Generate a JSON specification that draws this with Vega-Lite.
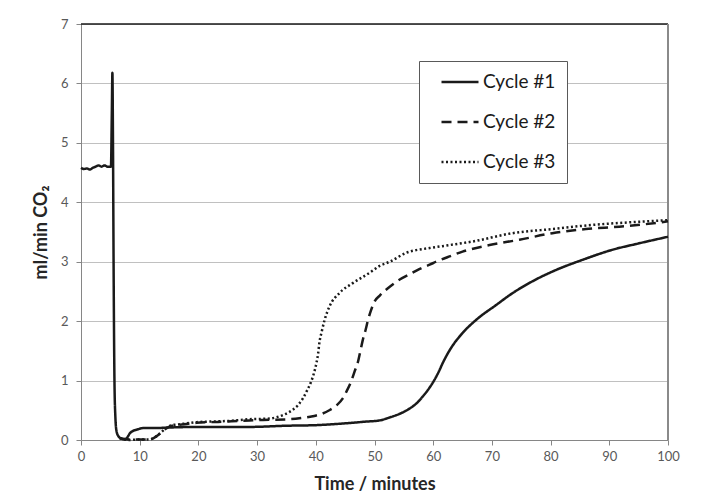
{
  "$schema": "https://vega.github.io/schema/vega-lite/v6.json",
  "width": 587,
  "height": 416,
  "autosize": "none",
  "padding": {"left": 81, "top": 24, "right": 36, "bottom": 58},
  "background": "white",
  "config": {"view": {"stroke": null}, "font": "Lato"},
  "layer": [
    {
      "data": {"values": [{"v": 7}]},
      "mark": {"type": "rule", "color": "#1a1a1a", "strokeWidth": 1.5},
      "encoding": {"y": {"field": "v", "type": "quantitative"}}
    },
    {
      "data": {"values": [{"t": 100}]},
      "mark": {"type": "rule", "color": "#8a8a8a", "strokeWidth": 2},
      "encoding": {"x": {"field": "t", "type": "quantitative"}}
    },
    {
      "data": {"values": [
        {"cycle": "Cycle #3", "t": 6.6, "v": 0.03}, {"cycle": "Cycle #3", "t": 8.3, "v": 0.0}, {"cycle": "Cycle #3", "t": 10, "v": 0.01}, {"cycle": "Cycle #3", "t": 11.7, "v": 0.01}, {"cycle": "Cycle #3", "t": 12.5, "v": 0.04}, {"cycle": "Cycle #3", "t": 13.1, "v": 0.08}, {"cycle": "Cycle #3", "t": 13.8, "v": 0.14}, {"cycle": "Cycle #3", "t": 14.6, "v": 0.21}, {"cycle": "Cycle #3", "t": 15.5, "v": 0.25}, {"cycle": "Cycle #3", "t": 16.3, "v": 0.26}, {"cycle": "Cycle #3", "t": 18, "v": 0.28}, {"cycle": "Cycle #3", "t": 19.7, "v": 0.3}, {"cycle": "Cycle #3", "t": 22, "v": 0.31}, {"cycle": "Cycle #3", "t": 25, "v": 0.32}, {"cycle": "Cycle #3", "t": 28.7, "v": 0.35}, {"cycle": "Cycle #3", "t": 32.1, "v": 0.36}, {"cycle": "Cycle #3", "t": 34.4, "v": 0.42}, {"cycle": "Cycle #3", "t": 35.3, "v": 0.46}, {"cycle": "Cycle #3", "t": 36.1, "v": 0.51}, {"cycle": "Cycle #3", "t": 37, "v": 0.59}, {"cycle": "Cycle #3", "t": 37.8, "v": 0.7}, {"cycle": "Cycle #3", "t": 38.5, "v": 0.83}, {"cycle": "Cycle #3", "t": 39.2, "v": 0.98}, {"cycle": "Cycle #3", "t": 39.7, "v": 1.13}, {"cycle": "Cycle #3", "t": 40.1, "v": 1.29}, {"cycle": "Cycle #3", "t": 40.4, "v": 1.46}, {"cycle": "Cycle #3", "t": 40.6, "v": 1.63}, {"cycle": "Cycle #3", "t": 41.0, "v": 1.82}, {"cycle": "Cycle #3", "t": 41.5, "v": 2.02}, {"cycle": "Cycle #3", "t": 42.3, "v": 2.24}, {"cycle": "Cycle #3", "t": 44.0, "v": 2.47}, {"cycle": "Cycle #3", "t": 46.3, "v": 2.64}, {"cycle": "Cycle #3", "t": 49.1, "v": 2.81}, {"cycle": "Cycle #3", "t": 50.9, "v": 2.93}, {"cycle": "Cycle #3", "t": 52.6, "v": 3.0}, {"cycle": "Cycle #3", "t": 55.4, "v": 3.15}, {"cycle": "Cycle #3", "t": 59.4, "v": 3.23}, {"cycle": "Cycle #3", "t": 62.8, "v": 3.28}, {"cycle": "Cycle #3", "t": 66.7, "v": 3.34}, {"cycle": "Cycle #3", "t": 73.5, "v": 3.48}, {"cycle": "Cycle #3", "t": 80.3, "v": 3.55}, {"cycle": "Cycle #3", "t": 87.2, "v": 3.62}, {"cycle": "Cycle #3", "t": 93, "v": 3.66}, {"cycle": "Cycle #3", "t": 100, "v": 3.7},

        {"cycle": "Cycle #2", "t": 6.6, "v": 0.03}, {"cycle": "Cycle #2", "t": 8.3, "v": 0.01}, {"cycle": "Cycle #2", "t": 10, "v": 0.01}, {"cycle": "Cycle #2", "t": 11.7, "v": 0.01}, {"cycle": "Cycle #2", "t": 12.5, "v": 0.04}, {"cycle": "Cycle #2", "t": 13.1, "v": 0.08}, {"cycle": "Cycle #2", "t": 13.8, "v": 0.14}, {"cycle": "Cycle #2", "t": 14.6, "v": 0.2}, {"cycle": "Cycle #2", "t": 15.5, "v": 0.24}, {"cycle": "Cycle #2", "t": 16.3, "v": 0.25}, {"cycle": "Cycle #2", "t": 18, "v": 0.27}, {"cycle": "Cycle #2", "t": 19.7, "v": 0.29}, {"cycle": "Cycle #2", "t": 22, "v": 0.3}, {"cycle": "Cycle #2", "t": 25, "v": 0.31}, {"cycle": "Cycle #2", "t": 28.7, "v": 0.33}, {"cycle": "Cycle #2", "t": 32, "v": 0.34}, {"cycle": "Cycle #2", "t": 35.5, "v": 0.35}, {"cycle": "Cycle #2", "t": 37.5, "v": 0.37}, {"cycle": "Cycle #2", "t": 39.5, "v": 0.4}, {"cycle": "Cycle #2", "t": 41, "v": 0.44}, {"cycle": "Cycle #2", "t": 42.3, "v": 0.5}, {"cycle": "Cycle #2", "t": 43.5, "v": 0.58}, {"cycle": "Cycle #2", "t": 44.6, "v": 0.7}, {"cycle": "Cycle #2", "t": 45.3, "v": 0.83}, {"cycle": "Cycle #2", "t": 46.0, "v": 0.98}, {"cycle": "Cycle #2", "t": 46.6, "v": 1.15}, {"cycle": "Cycle #2", "t": 47.2, "v": 1.32}, {"cycle": "Cycle #2", "t": 47.6, "v": 1.5}, {"cycle": "Cycle #2", "t": 48.0, "v": 1.68}, {"cycle": "Cycle #2", "t": 48.5, "v": 1.86}, {"cycle": "Cycle #2", "t": 48.9, "v": 2.02}, {"cycle": "Cycle #2", "t": 49.4, "v": 2.18}, {"cycle": "Cycle #2", "t": 50.0, "v": 2.33}, {"cycle": "Cycle #2", "t": 50.9, "v": 2.43}, {"cycle": "Cycle #2", "t": 52.6, "v": 2.58}, {"cycle": "Cycle #2", "t": 54.3, "v": 2.7}, {"cycle": "Cycle #2", "t": 56, "v": 2.79}, {"cycle": "Cycle #2", "t": 57.7, "v": 2.88}, {"cycle": "Cycle #2", "t": 59.4, "v": 2.95}, {"cycle": "Cycle #2", "t": 60.5, "v": 3.0}, {"cycle": "Cycle #2", "t": 62.8, "v": 3.09}, {"cycle": "Cycle #2", "t": 65, "v": 3.17}, {"cycle": "Cycle #2", "t": 69.6, "v": 3.28}, {"cycle": "Cycle #2", "t": 74.7, "v": 3.37}, {"cycle": "Cycle #2", "t": 80.3, "v": 3.48}, {"cycle": "Cycle #2", "t": 86, "v": 3.55}, {"cycle": "Cycle #2", "t": 91.7, "v": 3.59}, {"cycle": "Cycle #2", "t": 96, "v": 3.63}, {"cycle": "Cycle #2", "t": 100, "v": 3.68},

        {"cycle": "Cycle #1", "t": 0, "v": 4.58}, {"cycle": "Cycle #1", "t": 0.5, "v": 4.56}, {"cycle": "Cycle #1", "t": 1, "v": 4.57}, {"cycle": "Cycle #1", "t": 1.5, "v": 4.55}, {"cycle": "Cycle #1", "t": 2, "v": 4.58}, {"cycle": "Cycle #1", "t": 2.5, "v": 4.6}, {"cycle": "Cycle #1", "t": 3, "v": 4.62}, {"cycle": "Cycle #1", "t": 3.5, "v": 4.6}, {"cycle": "Cycle #1", "t": 4, "v": 4.62}, {"cycle": "Cycle #1", "t": 4.5, "v": 4.6}, {"cycle": "Cycle #1", "t": 5.1, "v": 4.6}, {"cycle": "Cycle #1", "t": 5.25, "v": 5.5}, {"cycle": "Cycle #1", "t": 5.35, "v": 6.18}, {"cycle": "Cycle #1", "t": 5.45, "v": 5.0}, {"cycle": "Cycle #1", "t": 5.55, "v": 3.0}, {"cycle": "Cycle #1", "t": 5.7, "v": 1.0}, {"cycle": "Cycle #1", "t": 5.85, "v": 0.4}, {"cycle": "Cycle #1", "t": 6.05, "v": 0.15}, {"cycle": "Cycle #1", "t": 6.4, "v": 0.06}, {"cycle": "Cycle #1", "t": 7, "v": 0.02}, {"cycle": "Cycle #1", "t": 7.5, "v": 0.01}, {"cycle": "Cycle #1", "t": 8, "v": 0.06}, {"cycle": "Cycle #1", "t": 8.3, "v": 0.11}, {"cycle": "Cycle #1", "t": 8.8, "v": 0.15}, {"cycle": "Cycle #1", "t": 9.7, "v": 0.18}, {"cycle": "Cycle #1", "t": 10.5, "v": 0.2}, {"cycle": "Cycle #1", "t": 12.3, "v": 0.2}, {"cycle": "Cycle #1", "t": 15, "v": 0.21}, {"cycle": "Cycle #1", "t": 20, "v": 0.22}, {"cycle": "Cycle #1", "t": 28.7, "v": 0.22}, {"cycle": "Cycle #1", "t": 35, "v": 0.24}, {"cycle": "Cycle #1", "t": 40, "v": 0.25}, {"cycle": "Cycle #1", "t": 45, "v": 0.28}, {"cycle": "Cycle #1", "t": 48.6, "v": 0.31}, {"cycle": "Cycle #1", "t": 50.9, "v": 0.33}, {"cycle": "Cycle #1", "t": 52.6, "v": 0.38}, {"cycle": "Cycle #1", "t": 54.5, "v": 0.45}, {"cycle": "Cycle #1", "t": 56, "v": 0.53}, {"cycle": "Cycle #1", "t": 57.2, "v": 0.62}, {"cycle": "Cycle #1", "t": 58.2, "v": 0.73}, {"cycle": "Cycle #1", "t": 59.3, "v": 0.87}, {"cycle": "Cycle #1", "t": 60.2, "v": 1.01}, {"cycle": "Cycle #1", "t": 61, "v": 1.16}, {"cycle": "Cycle #1", "t": 61.6, "v": 1.29}, {"cycle": "Cycle #1", "t": 62.8, "v": 1.51}, {"cycle": "Cycle #1", "t": 65, "v": 1.8}, {"cycle": "Cycle #1", "t": 67.3, "v": 2.02}, {"cycle": "Cycle #1", "t": 70.7, "v": 2.27}, {"cycle": "Cycle #1", "t": 73.5, "v": 2.47}, {"cycle": "Cycle #1", "t": 76.9, "v": 2.67}, {"cycle": "Cycle #1", "t": 80.9, "v": 2.86}, {"cycle": "Cycle #1", "t": 85.4, "v": 3.03}, {"cycle": "Cycle #1", "t": 90.5, "v": 3.2}, {"cycle": "Cycle #1", "t": 95.1, "v": 3.31}, {"cycle": "Cycle #1", "t": 100, "v": 3.42}
      ]},
      "mark": {"type": "line", "strokeWidth": 2.5, "color": "#1a1a1a", "interpolate": "monotone"},
      "encoding": {
        "x": {
          "field": "t", "type": "quantitative",
          "scale": {"domain": [0, 100], "nice": false},
          "axis": {
            "title": "Time / minutes", "values": [0, 10, 20, 30, 40, 50, 60, 70, 80, 90, 100],
            "grid": false, "domainColor": "#868686", "tickColor": "#868686", "tickSize": 5,
            "labelFontSize": 13, "labelColor": "#595959", "labelPadding": 5, "labelFlush": false,
            "titleFontSize": 18, "titleFontWeight": "bold", "titleColor": "#262626", "titlePadding": 12
          }
        },
        "y": {
          "field": "v", "type": "quantitative",
          "scale": {"domain": [0, 7], "nice": false},
          "axis": {
            "title": "ml/min CO₂", "values": [0, 1, 2, 3, 4, 5, 6, 7], "format": "d",
            "grid": true, "gridColor": "#c0c0c0", "gridWidth": 1,
            "domainColor": "#868686", "tickColor": "#868686", "tickSize": 5,
            "labelFontSize": 13, "labelColor": "#595959", "labelPadding": 8,
            "titleFontSize": 18, "titleFontWeight": "bold", "titleColor": "#262626", "titlePadding": 10
          }
        },
        "strokeDash": {
          "field": "cycle", "type": "nominal",
          "scale": {"domain": ["Cycle #1", "Cycle #2", "Cycle #3"], "range": [[1, 0], [10, 6], [2, 2.5]]},
          "legend": {
            "orient": "none", "legendX": 338, "legendY": 37, "title": null,
            "symbolType": "stroke", "symbolSize": 1369, "symbolStrokeWidth": 2.5, "symbolStrokeColor": "#1a1a1a",
            "symbolOffset": 10,
            "labelFontSize": 19, "labelColor": "#1a1a1a", "labelOffset": 3,
            "labelExpr": "datum.label + '\u2002'",
            "strokeColor": "#595959", "fillColor": "white", "padding": 11, "rowPadding": 20,
            "encode": {
              "symbols": {"update": {"y": {"value": 10}}},
              "labels": {"update": {"y": {"value": 10}}}
            }
          }
        }
      }
    }
  ]
}
